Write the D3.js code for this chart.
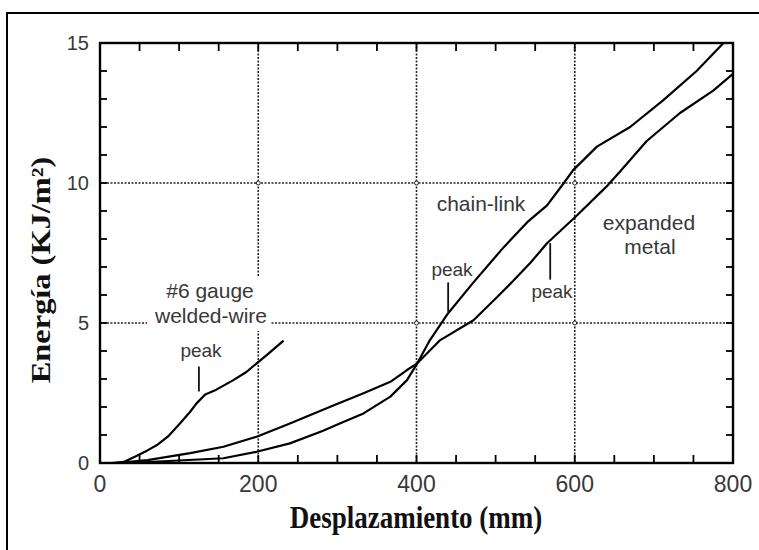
<!DOCTYPE html>
<html>
<head>
<meta charset="utf-8">
<script src="https://cdn.jsdelivr.net/npm/d3@7"></script>
<style>
  body { margin: 0; background: #fff; }
  svg { display: block; }
  .lbl { font-family: Arial, "Liberation Sans", sans-serif; fill: #383838; }
  .title { font-family: "Liberation Serif", "Times New Roman", serif; font-weight: bold; fill: #111; }
</style>
</head>
<body>
<div id="chart"></div>
<script>
// values
const weldedX = [15, 30, 46, 60, 72, 86, 101, 114, 122, 133, 147, 168, 185, 198, 211, 232];
const weldedY = [0, 0.04, 0.25, 0.45, 0.64, 0.95, 1.41, 1.83, 2.13, 2.45, 2.62, 2.95, 3.25, 3.56, 3.86, 4.37];

const chainX = [35, 93, 156, 198, 240, 282, 303, 333, 367, 388, 401, 417, 440, 472, 510, 540, 565, 586, 598, 628, 670, 712, 754, 788];
const chainY = [0, 0.08, 0.17, 0.4, 0.7, 1.15, 1.41, 1.77, 2.37, 2.96, 3.56, 4.39, 5.35, 6.45, 7.7, 8.6, 9.2, 9.99, 10.46, 11.3, 12.0, 12.96, 14.0, 15.0];

const expandedX = [20, 60, 114, 156, 198, 240, 291, 333, 367, 388, 401, 430, 472, 501, 522, 544, 565, 603, 640, 657, 691, 733, 775, 800];
const expandedY = [0, 0.1, 0.35, 0.58, 0.94, 1.41, 2.01, 2.49, 2.9, 3.32, 3.56, 4.39, 5.1, 5.9, 6.5, 7.15, 7.85, 8.85, 9.87, 10.4, 11.5, 12.5, 13.3, 13.9];

const xTicks = [0, 200, 400, 600, 800];
const yTicks = [0, 5, 10, 15];
const xMinor = d3.range(50, 800, 50);
const yMinor = d3.range(1, 15, 1);
const xGrid = [200, 400, 600];
const yGrid = [5, 10];

// peak markers: [x, yFrom, yTo]
const peaks = [[125, 2.55, 3.45], [440, 5.4, 6.45], [569, 7.85, 6.55]];

const W = 759, H = 550;
const margin = { top: 43, right: 26, bottom: 87, left: 100 };
const width = W - margin.left - margin.right;
const height = H - margin.top - margin.bottom;

const svg = d3.select("#chart").append("svg").attr("width", W).attr("height", H);

// outer frame of the figure
svg.append("rect")
  .attr("x", 7).attr("y", 13).attr("width", 770).attr("height", 560)
  .attr("fill", "none").attr("stroke", "#000").attr("stroke-width", 2);

const g = svg.append("g").attr("transform", `translate(${margin.left},${margin.top})`);

const x = d3.scaleLinear().domain([0, 800]).range([0, width]);
const y = d3.scaleLinear().domain([0, 15]).range([height, 0]);

g.append("clipPath").attr("id", "clip")
  .append("rect").attr("width", width).attr("height", height);

// dotted grid
g.selectAll(".gx").data(xGrid).enter().append("line")
  .attr("x1", d => x(d)).attr("x2", d => x(d))
  .attr("y1", 0).attr("y2", height)
  .attr("stroke", "#222").attr("stroke-width", 1.6).attr("stroke-dasharray", "2,1.5");
g.selectAll(".gy").data(yGrid).enter().append("line")
  .attr("x1", 0).attr("x2", width)
  .attr("y1", d => y(d)).attr("y2", d => y(d))
  .attr("stroke", "#222").attr("stroke-width", 1.6).attr("stroke-dasharray", "2,1.5");

// little open circles where the grid lines cross
const cross = d3.cross(xGrid, yGrid);
g.selectAll(".gc").data(cross).enter().append("circle")
  .attr("cx", d => x(d[0])).attr("cy", d => y(d[1])).attr("r", 2)
  .attr("fill", "#fff").attr("stroke", "#222").attr("stroke-width", 1);

// inward ticks on all four sides
const tk = g.append("g").attr("stroke", "#000").attr("stroke-width", 1.8);
tk.selectAll(".tb").data(xMinor).enter().append("line")
  .attr("x1", d => x(d)).attr("x2", d => x(d)).attr("y1", height).attr("y2", height - 8);
tk.selectAll(".tt").data(xMinor).enter().append("line")
  .attr("x1", d => x(d)).attr("x2", d => x(d)).attr("y1", 0).attr("y2", 8);
tk.selectAll(".tl").data(yMinor).enter().append("line")
  .attr("y1", d => y(d)).attr("y2", d => y(d)).attr("x1", 0).attr("x2", 7);
tk.selectAll(".tr").data(yMinor).enter().append("line")
  .attr("y1", d => y(d)).attr("y2", d => y(d)).attr("x1", width).attr("x2", width - 7);

// plot frame
g.append("rect").attr("width", width).attr("height", height)
  .attr("fill", "none").attr("stroke", "#000").attr("stroke-width", 2.4);

// tick labels
g.selectAll(".xl").data(xTicks).enter().append("text")
  .attr("class", "lbl").attr("x", d => x(d)).attr("y", height + 29)
  .attr("text-anchor", "middle").attr("font-size", 23).text(d => d);
g.selectAll(".yl").data(yTicks).enter().append("text")
  .attr("class", "lbl").attr("x", -11).attr("y", d => y(d) + 7)
  .attr("text-anchor", "end").attr("font-size", 20).text(d => d);

// white patch behind the welded-wire label
g.append("rect")
  .attr("x", 147 - margin.left).attr("y", 277 - margin.top)
  .attr("width", 123).attr("height", 54).attr("fill", "#fff");

// curves
const line = d3.line().x(d => x(d[0])).y(d => y(d[1]));
const series = [
  d3.zip(weldedX, weldedY),
  d3.zip(chainX, chainY),
  d3.zip(expandedX, expandedY)
];
g.append("g").attr("clip-path", "url(#clip)")
  .selectAll("path").data(series).enter().append("path")
  .attr("d", line).attr("fill", "none")
  .attr("stroke", "#000").attr("stroke-width", 2.2).attr("stroke-linejoin", "round");

// peak marks
g.selectAll(".pk").data(peaks).enter().append("line")
  .attr("x1", d => x(d[0])).attr("x2", d => x(d[0]))
  .attr("y1", d => y(d[1])).attr("y2", d => y(d[2]))
  .attr("stroke", "#111").attr("stroke-width", 1.8);

// annotations (page coordinates)
const notes = [
  ["#6 gauge", 210, 298],
  ["welded-wire", 211, 323],
  ["peak", 201, 357],
  ["chain-link", 481, 211],
  ["peak", 452, 276],
  ["expanded", 649, 230],
  ["metal", 650, 254],
  ["peak", 552, 298]
];
svg.selectAll(".note").data(notes).enter().append("text")
  .attr("class", "lbl").attr("x", d => d[1]).attr("y", d => d[2])
  .attr("text-anchor", "middle").attr("font-size", d => d[0] === "peak" ? 19 : 21)
  .text(d => d[0]);

// axis titles
svg.append("text").attr("class", "title")
  .attr("transform", "translate(416,528) scale(1,1.2)")
  .attr("text-anchor", "middle").attr("font-size", 27)
  .text("Desplazamiento (mm)");
svg.append("text").attr("class", "title")
  .attr("transform", "translate(50,270) scale(1,1.2) rotate(-90)")
  .attr("text-anchor", "middle").attr("font-size", 27)
  .text("Energía (KJ/m²)");
</script>
</body>
</html>
